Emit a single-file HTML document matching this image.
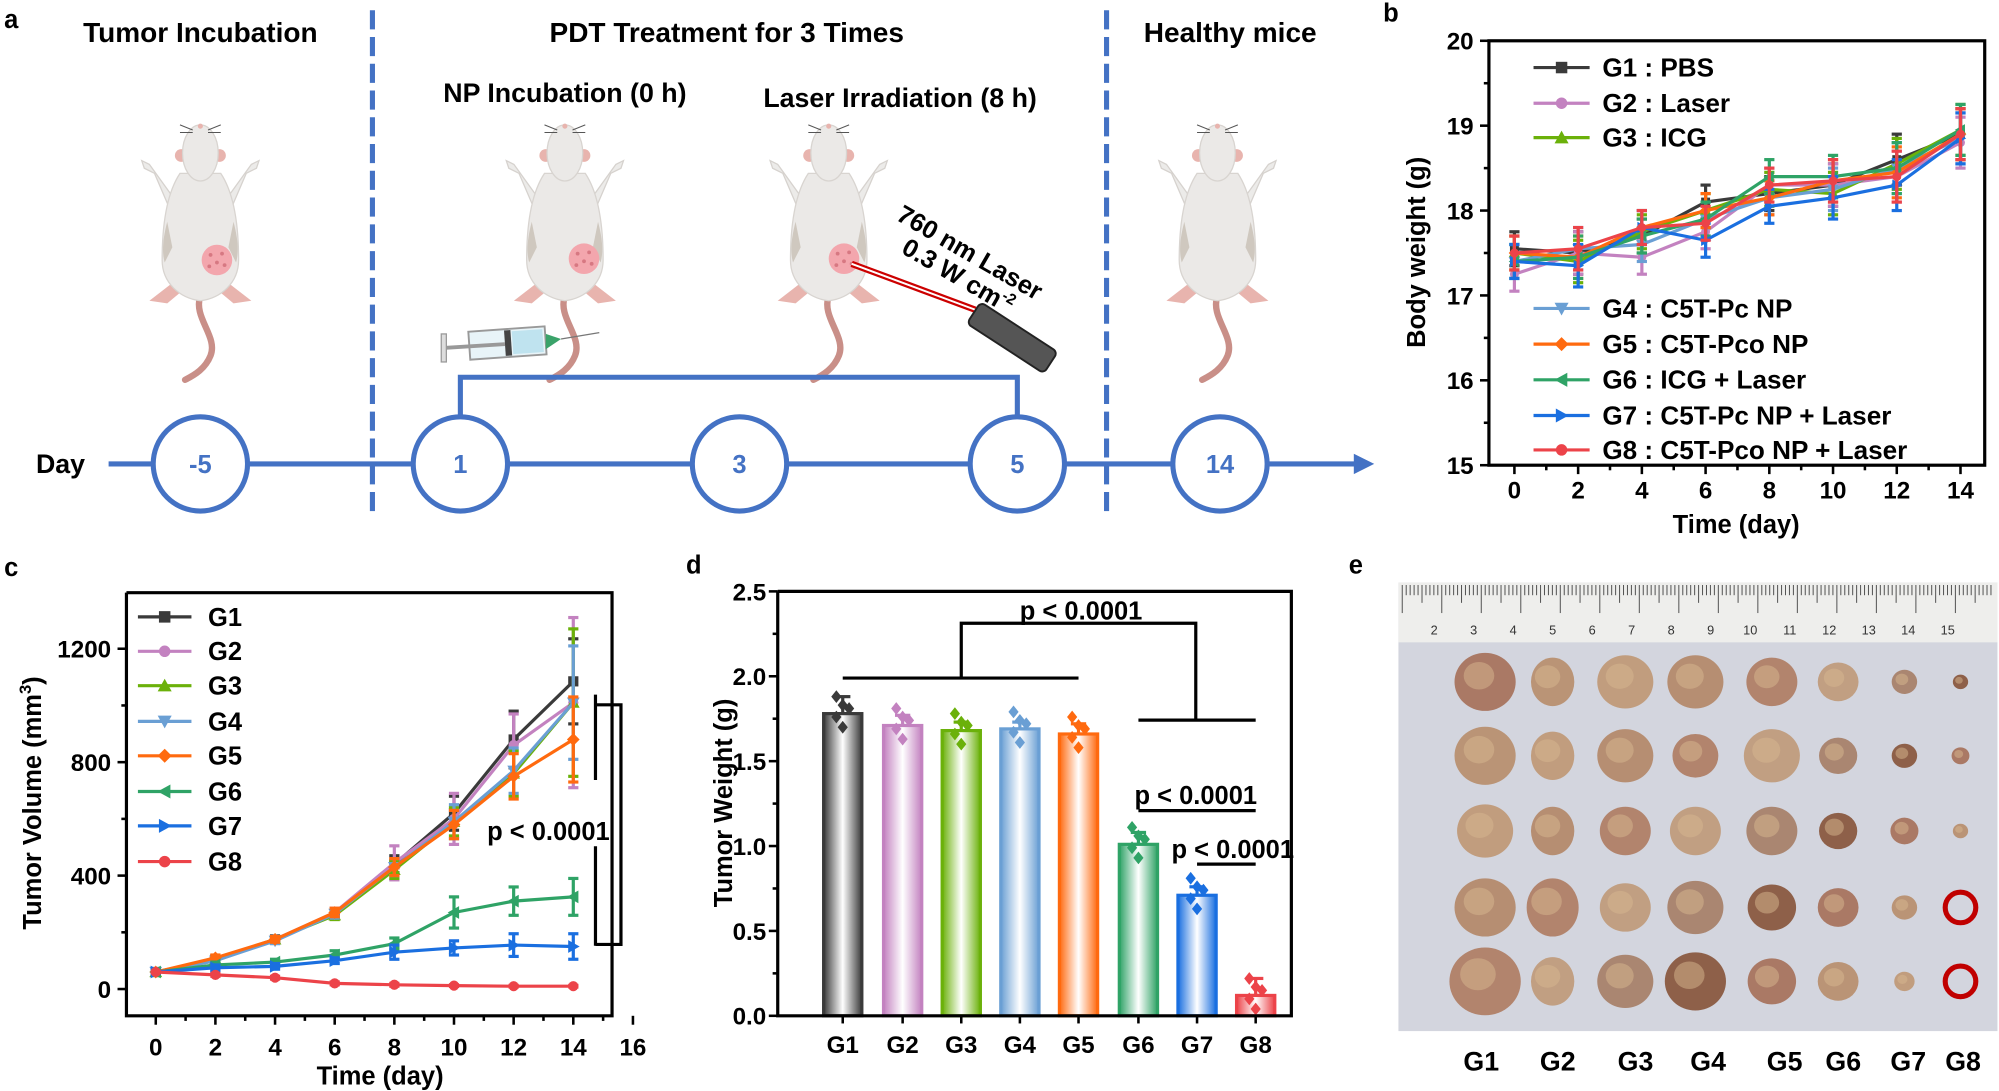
<!DOCTYPE html>
<html><head><meta charset="utf-8">
<style>
html,body{margin:0;padding:0;background:#fff;}
svg{display:block;font-family:"Liberation Sans",Arial,sans-serif;font-weight:bold;}
</style></head>
<body>
<svg id="s" width="1999" height="1091" viewBox="0 0 1568 856" xmlns="http://www.w3.org/2000/svg">
<defs>
<g id="mouse">
  <path d="M0,138 C-6,155 14,170 8,185 C4,195 -4,200 -12,204" fill="none" stroke="#c98f88" stroke-width="5" stroke-linecap="round"/>
  <path d="M-22,60 L-40,35 L-46,32 L-44,38 L-36,42 L-24,70Z" fill="#ecebe9" stroke="#d6d2ce"/>
  <path d="M22,60 L40,35 L46,32 L44,38 L36,42 L24,70Z" fill="#ecebe9" stroke="#d6d2ce"/>
  <path d="M-22,128 L-40,142 L-26,144 L-14,134Z" fill="#e8b4ae"/>
  <path d="M22,128 L40,142 L26,144 L14,134Z" fill="#e8b4ae"/>
  <ellipse cx="-15" cy="28" rx="5" ry="5" fill="#e8b4ae"/>
  <ellipse cx="15" cy="28" rx="5" ry="5" fill="#e8b4ae"/>
  <path d="M-16,42 C-28,60 -30,90 -30,110 C-30,128 -16,140 0,142 C16,140 30,128 30,110 C30,90 28,60 16,42Z" fill="#ebe9e7" stroke="#d8d4d0"/>
  <path d="M-26,80 C-30,95 -30,105 -28,112 L-22,100Z" fill="#cfc8bf"/>
  <path d="M26,80 C30,95 30,105 28,112 L22,100Z" fill="#cfc8bf"/>
  <ellipse cx="0" cy="26" rx="14" ry="22" fill="#ebe9e7" stroke="#d8d4d0"/>
  <path d="M-6,8 L-16,4 M-6,10 L-16,10 M6,8 L16,4 M6,10 L16,10" stroke="#555" stroke-width="0.8"/>
  <circle cx="0" cy="5" r="2" fill="#e8b4ae"/>
</g>
<g id="tumor"><circle r="12" fill="#f3a6ad"/><circle cx="-5" cy="-4" r="1.5" fill="#d77882"/><circle cx="4" cy="-5" r="1.5" fill="#d77882"/><circle cx="0" cy="2" r="1.5" fill="#d77882"/><circle cx="-6" cy="5" r="1.5" fill="#d77882"/><circle cx="6" cy="4" r="1.5" fill="#d77882"/></g>
</defs>

<!-- Panel a -->
<text x="3" y="22" font-size="20">a</text>
<text x="157" y="33" font-size="22" text-anchor="middle">Tumor Incubation</text>
<text x="570" y="33" font-size="22" text-anchor="middle">PDT Treatment for 3 Times</text>
<text x="965" y="33" font-size="22" text-anchor="middle">Healthy mice</text>
<text x="443" y="80" font-size="21" text-anchor="middle">NP Incubation (0 h)</text>
<text x="706" y="84" font-size="21" text-anchor="middle">Laser Irradiation (8 h)</text>
<line x1="292" y1="8" x2="292" y2="402" stroke="#4472c4" stroke-width="4" stroke-dasharray="15,6"/>
<line x1="868" y1="8" x2="868" y2="402" stroke="#4472c4" stroke-width="4" stroke-dasharray="15,6"/>
<use href="#mouse" x="157" y="94"/><use href="#tumor" x="170" y="204"/>
<use href="#mouse" x="443" y="94"/><use href="#tumor" x="458" y="203"/>
<use href="#mouse" x="650" y="94"/><use href="#tumor" x="662" y="203"/>
<use href="#mouse" x="955" y="94"/>
<!-- syringe -->
<g>
<rect x="368" y="258" width="60" height="22" fill="#e8f4f8" stroke="#999" stroke-width="1.5" transform="rotate(-4 400 270)"/>
<rect x="402" y="260" width="24" height="18" fill="#bfe3ef" transform="rotate(-4 400 270)"/>
<rect x="396" y="259" width="5" height="20" fill="#444" transform="rotate(-4 400 270)"/>
<line x1="348" y1="273" x2="396" y2="270" stroke="#999" stroke-width="3"/>
<rect x="346" y="262" width="4" height="22" fill="#ddd" stroke="#999"/>
<path d="M428,262 L440,266 L428,274Z" fill="#3aa36a"/>
<line x1="440" y1="266" x2="470" y2="261" stroke="#777" stroke-width="1"/>
</g>
<!-- laser -->
<line x1="668" y1="207" x2="765" y2="243" stroke="#c00" stroke-width="5"/>
<line x1="668" y1="207" x2="765" y2="243" stroke="#fff" stroke-width="1.5"/>
<rect x="758" y="255" width="72" height="20" rx="4" fill="#555" stroke="#222" stroke-width="1.5" transform="rotate(33 794 265)"/>
<text font-size="20" transform="translate(702,172) rotate(30)">760 nm Laser</text>
<text font-size="20" transform="translate(706,198) rotate(30)">0.3 W cm<tspan font-size="12" dy="-8">-2</tspan></text>
<!-- timeline -->
<line x1="85" y1="364" x2="1068" y2="364" stroke="#4472c4" stroke-width="4"/>
<path d="M1078,364 L1062,356 L1062,372Z" fill="#4472c4"/>
<polyline points="361,326 361,296 798,296 798,326" fill="none" stroke="#4472c4" stroke-width="4"/>
<text x="28" y="371" font-size="21">Day</text>
<g fill="#fff" stroke="#4472c4" stroke-width="4">
<circle cx="157" cy="364" r="37"/><circle cx="361" cy="364" r="37"/><circle cx="580" cy="364" r="37"/><circle cx="798" cy="364" r="37"/><circle cx="957" cy="364" r="37"/>
</g>
<g fill="#4472c4" font-size="20" text-anchor="middle">
<text x="157" y="371">-5</text><text x="361" y="371">1</text><text x="580" y="371">3</text><text x="798" y="371">5</text><text x="957" y="371">14</text>
</g>

<text x="1085" y="17" font-size="20">b</text>
<g id="pb"></g>
<text x="3" y="452" font-size="20">c</text>
<g id="pc"></g>
<text x="538" y="450" font-size="20">d</text>
<g id="pd"></g>
<text x="1058" y="450" font-size="20">e</text>
<g id="pe"></g>
</svg>
<script>
var NS="http://www.w3.org/2000/svg";
function el(p,t,a,txt){var e=document.createElementNS(NS,t);for(var k in a)e.setAttribute(k,a[k]);if(txt!==undefined)e.textContent=txt;p.appendChild(e);return e;}
var cols=["#3a3a3a","#c382c0","#6bb10a","#6a9fd4","#ff6a0f","#2fa366","#1a6fe0","#ec4349"];
function marker(g,i,x,y,s){var c=cols[i];s=s||4.5;
 if(i==0)el(g,"rect",{x:x-s,y:y-s,width:2*s,height:2*s,fill:c});
 else if(i==1||i==7)el(g,"circle",{cx:x,cy:y,r:s,fill:c});
 else if(i==2)el(g,"path",{d:"M"+x+","+(y-s-1)+" L"+(x+s+1)+","+(y+s)+" L"+(x-s-1)+","+(y+s)+"Z",fill:c});
 else if(i==3)el(g,"path",{d:"M"+x+","+(y+s+1)+" L"+(x+s+1)+","+(y-s)+" L"+(x-s-1)+","+(y-s)+"Z",fill:c});
 else if(i==4)el(g,"path",{d:"M"+x+","+(y-s-1)+" L"+(x+s+1)+","+y+" L"+x+","+(y+s+1)+" L"+(x-s-1)+","+y+"Z",fill:c});
 else if(i==5)el(g,"path",{d:"M"+(x-s-1)+","+y+" L"+(x+s)+","+(y-s-1)+" L"+(x+s)+","+(y+s+1)+"Z",fill:c});
 else if(i==6)el(g,"path",{d:"M"+(x+s+1)+","+y+" L"+(x-s)+","+(y-s-1)+" L"+(x-s)+","+(y+s+1)+"Z",fill:c});
}
function errbar(g,c,x,y1,y2,w){el(g,"line",{x1:x,y1:y1,x2:x,y2:y2,stroke:c,"stroke-width":2.5});el(g,"line",{x1:x-w,y1:y1,x2:x+w,y2:y1,stroke:c,"stroke-width":2.5});el(g,"line",{x1:x-w,y1:y2,x2:x+w,y2:y2,stroke:c,"stroke-width":2.5});}

(function(){var g=document.getElementById("pb");
 var L=1168,R=1557,T=32,B=365;
 function X(d){return 1188+d*25;} function Y(v){return 365-(v-15)*66.6;}
 var data=[[17.55,17.5,17.7,18.1,18.2,18.3,18.6,18.9],[17.25,17.5,17.45,17.75,18.3,18.3,18.4,18.8],[17.5,17.4,17.75,18.0,18.25,18.2,18.55,18.95],[17.4,17.55,17.6,17.9,18.15,18.25,18.5,18.85],[17.5,17.45,17.8,18.0,18.15,18.35,18.45,18.9],[17.4,17.45,17.7,17.9,18.4,18.4,18.5,18.95],[17.4,17.35,17.8,17.65,18.05,18.15,18.3,18.85],[17.5,17.55,17.8,17.85,18.3,18.35,18.4,18.9]];
 var errs=[0.2,0.25,0.2,0.2,0.2,0.25,0.3,0.3];
 data.forEach(function(s,i){
  s.forEach(function(v,j){errbar(g,cols[i],X(j*2),Y(v-errs[j]),Y(v+errs[j]),4);});
  el(g,"polyline",{points:s.map(function(v,j){return X(j*2)+","+Y(v)}).join(" "),fill:"none",stroke:cols[i],"stroke-width":2.5});
  s.forEach(function(v,j){marker(g,i,X(j*2),Y(v),3.5);});});
 el(g,"rect",{x:L,y:T,width:R-L,height:B-T,fill:"none",stroke:"#000","stroke-width":2.5});
 for(var v=15;v<=20;v+=0.5){var y=Y(v);el(g,"line",{x1:L-(v%1?4:7),y1:y,x2:L,y2:y,stroke:"#000","stroke-width":2});if(v%1==0)el(g,"text",{x:L-12,y:y+7,"font-size":19,"text-anchor":"end"},v);}
 for(var d=0;d<=14;d+=1){var x=X(d);el(g,"line",{x1:x,y1:B,x2:x,y2:B+(d%2?4:7),stroke:"#000","stroke-width":2});if(d%2==0)el(g,"text",{x:x,y:B+26,"font-size":19,"text-anchor":"middle"},d);}
 el(g,"text",{x:1362,y:418,"font-size":20,"text-anchor":"middle"},"Time (day)");
 el(g,"text",{transform:"translate(1118,198) rotate(-90)","font-size":20,"text-anchor":"middle"},"Body weight (g)");
 var names=["G1 : PBS","G2 : Laser","G3 : ICG","G4 : C5T-Pc NP","G5 : C5T-Pco NP","G6 : ICG + Laser","G7 : C5T-Pc NP + Laser","G8 : C5T-Pco NP + Laser"];
 var ly=[53,81,108,242,270,298,326,353];
 names.forEach(function(n,i){el(g,"line",{x1:1203,y1:ly[i],x2:1247,y2:ly[i],stroke:cols[i],"stroke-width":2.5});marker(g,i,1225,ly[i],4.5);el(g,"text",{x:1257,y:ly[i]+7,"font-size":20.5},n);});
})();

(function(){var g=document.getElementById("pc");
 var L=99,R=480,T=465,B=797;
 function X(d){return 122+d*23.4;} function Y(v){return 776-v*0.2225;}
 var data=[[60,105,175,265,440,620,880,1085],[60,100,175,270,445,600,860,1010],[60,105,175,260,420,590,760,1010],[60,100,170,265,430,590,770,1010],[60,110,175,270,430,580,750,880],[60,85,95,120,160,270,310,325],[60,75,80,100,130,145,155,150],[60,50,40,20,15,12,10,10]];
 var ef=[[5,10,10,15,30,60,100,150],[5,12,10,15,60,90,110,300],[5,10,10,15,30,50,80,260],[5,10,10,15,30,60,80,200],[5,10,10,15,30,50,80,150],[5,10,10,15,20,55,50,65],[5,10,10,10,25,25,40,45],[3,5,5,5,5,3,3,3]];
 data.forEach(function(s,i){
  s.forEach(function(v,j){errbar(g,cols[i],X(j*2),Y(v-ef[i][j]),Y(v+ef[i][j]),4);});
  el(g,"polyline",{points:s.map(function(v,j){return X(j*2)+","+Y(v)}).join(" "),fill:"none",stroke:cols[i],"stroke-width":2.5});
  s.forEach(function(v,j){marker(g,i,X(j*2),Y(v),4);});});
 el(g,"polyline",{points:L+","+T+" "+R+","+T+" "+R+","+B+" "+L+","+B+" "+L+","+T,fill:"none",stroke:"#000","stroke-width":2.5});
 for(var v=0;v<=1400;v+=200){var y=Y(v);if(y<T)continue;el(g,"line",{x1:L-(v%400?4:7),y1:y,x2:L,y2:y,stroke:"#000","stroke-width":2});if(v%400==0)el(g,"text",{x:L-12,y:y+7,"font-size":19,"text-anchor":"end"},v);}
 for(var d=0;d<=16;d+=1){var x=X(d);el(g,"line",{x1:x,y1:B,x2:x,y2:B+(d%2?4:7),stroke:"#000","stroke-width":2});if(d%2==0)el(g,"text",{x:x,y:B+31,"font-size":19,"text-anchor":"middle"},d);}
 el(g,"text",{x:298,y:851,"font-size":20,"text-anchor":"middle"},"Time (day)");
 var yl=el(g,"text",{transform:"translate(32,630) rotate(-90)","font-size":20,"text-anchor":"middle"},"Tumor Volume (mm");
 el(yl,"tspan",{dy:-8,"font-size":13},"3");el(yl,"tspan",{dy:8},")");
 var ly=[484,511,538,566,593,621,648,676];
 ly.forEach(function(y,i){el(g,"line",{x1:108,y1:y,x2:150,y2:y,stroke:cols[i],"stroke-width":2.5});marker(g,i,129,y,4.5);el(g,"text",{x:163,y:y+7,"font-size":20},"G"+(i+1));});
 el(g,"line",{x1:467,y1:545,x2:467,y2:612,stroke:"#000","stroke-width":2.5});
 el(g,"line",{x1:467,y1:664,x2:467,y2:742,stroke:"#000","stroke-width":2.5});
 el(g,"polyline",{points:"467,553 487,553 487,741 467,741",fill:"none",stroke:"#000","stroke-width":2.5});
 el(g,"text",{x:382,y:659,"font-size":20},"p < 0.0001");
})();

(function(){var g=document.getElementById("pd");var defs=el(g,"defs",{});
 var L=610,R=1013,T=464,B=797;function Y(v){return 797-v*133.2;}
 var xs=[661,708,754,800,846,893,939,985],vals=[1.78,1.71,1.68,1.69,1.66,1.01,0.71,0.12],er=[0.1,0.06,0.05,0.04,0.06,0.07,0.05,0.1];
 xs.forEach(function(x,i){var gr=el(defs,"linearGradient",{id:"gb"+i,x1:0,y1:0,x2:1,y2:0});
  el(gr,"stop",{offset:"0","stop-color":cols[i]});el(gr,"stop",{offset:"0.5","stop-color":"#fff"});el(gr,"stop",{offset:"1","stop-color":cols[i]});
  errbar(g,cols[i],x,Y(vals[i]),Y(vals[i]+er[i]),6);
  el(g,"rect",{x:x-15,y:Y(vals[i]),width:30,height:B-Y(vals[i]),fill:"url(#gb"+i+")",stroke:cols[i],"stroke-width":2.5});
  var off=[0.1,-0.08,0.03,-0.02,0.05];
  off.forEach(function(o,k){var v=vals[i]+o;if(v<0)v=0;var px=x+(k%3-1)*5,py=Y(v);el(g,"path",{d:"M"+px+","+(py-5)+" L"+(px+4)+","+py+" L"+px+","+(py+5)+" L"+(px-4)+","+py+"Z",fill:cols[i]});});
  el(g,"text",{x:x,y:826,"font-size":19,"text-anchor":"middle"},"G"+(i+1));
  el(g,"line",{x1:x,y1:B,x2:x,y2:B+6,stroke:"#000","stroke-width":2});
 });
 el(g,"polyline",{points:L+","+T+" "+L+","+B+" "+R+","+B+" "+R+","+T+" "+L+","+T,fill:"none",stroke:"#000","stroke-width":2.5});
 for(var v=0;v<=2.5;v+=0.25){var y=Y(v);var maj=Math.abs(v*2-Math.round(v*2))<1e-6;el(g,"line",{x1:L-(maj?7:4),y1:y,x2:L,y2:y,stroke:"#000","stroke-width":2});if(maj)el(g,"text",{x:L-9,y:y+7,"font-size":19,"text-anchor":"end"},v.toFixed(1));}
 el(g,"text",{transform:"translate(574,630) rotate(-90)","font-size":20,"text-anchor":"middle"},"Tumor Weight (g)");
 var k="#000";
 el(g,"line",{x1:661,y1:532,x2:846,y2:532,stroke:k,"stroke-width":2.5});
 el(g,"polyline",{points:"754,532 754,489 938,489 938,565",fill:"none",stroke:k,"stroke-width":2.5});
 el(g,"line",{x1:893,y1:565,x2:985,y2:565,stroke:k,"stroke-width":2.5});
 el(g,"text",{x:848,y:486,"font-size":20,"text-anchor":"middle"},"p < 0.0001");
 el(g,"line",{x1:893,y1:636,x2:985,y2:636,stroke:k,"stroke-width":2.5});
 el(g,"text",{x:938,y:631,"font-size":20,"text-anchor":"middle"},"p < 0.0001");
 el(g,"line",{x1:939,y1:678,x2:985,y2:678,stroke:k,"stroke-width":2.5});
 el(g,"text",{x:967,y:673,"font-size":20,"text-anchor":"middle"},"p < 0.0001");
})();

(function(){var g=document.getElementById("pe");
 el(g,"rect",{x:1097,y:457,width:470,height:352,fill:"#d3d5de"});
 el(g,"rect",{x:1097,y:457,width:470,height:47,fill:"#eeeeec"});
 for(var i=0;i<150;i++){var x=1100+i*3.1;var h=(i%10==0)?22:(i%5==0?14:8);el(g,"line",{x1:x,y1:459,x2:x,y2:459+h,stroke:"#555","stroke-width":0.8});}
 for(var n=2;n<=15;n++){el(g,"text",{x:1125+(n-2)*31,y:498,"font-size":10,"font-weight":"normal","text-anchor":"middle",fill:"#333"},n);}
 var cx=[1165,1218,1275,1330,1390,1442,1494,1538],ry=[535,593,652,712,770];
 var sz=[[24,20,22,22,20,16,10,6],[24,20,22,18,22,15,10,7],[22,20,20,20,20,15,11,6],[24,24,20,22,19,16,10,0],[28,20,22,24,19,16,8,0]];
 var fills=["#a8745e","#b89070","#c09a78","#b48a6c","#b08066","#c09c7c","#a8826a","#8a5a40"];
 ry.forEach(function(y,r){cx.forEach(function(x,c){var s=sz[r][c];if(!s)return;
  el(g,"ellipse",{cx:x,cy:y,rx:s*(c==1?0.85:1),ry:s*0.95,fill:fills[(c+r)%8],opacity:0.95});
  el(g,"ellipse",{cx:x-s*0.2,cy:y-s*0.2,rx:s*0.5,ry:s*0.45,fill:"#d8b890",opacity:0.5});});});
 el(g,"circle",{cx:1538,cy:712,r:12,fill:"none",stroke:"#c00000","stroke-width":4});
 el(g,"circle",{cx:1538,cy:770,r:12,fill:"none",stroke:"#c00000","stroke-width":4});
 var lx=[1162,1222,1283,1340,1400,1446,1497,1540];
 lx.forEach(function(x,i){el(g,"text",{x:x,y:840,"font-size":21,"text-anchor":"middle"},"G"+(i+1));});
})();
</script>
</body></html>
